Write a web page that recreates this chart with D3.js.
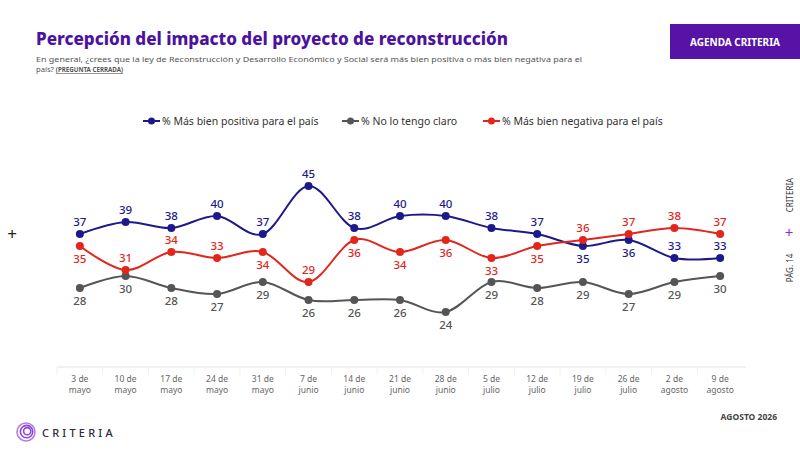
<!DOCTYPE html>
<html lang="es">
<head>
<meta charset="UTF-8">
<title>Percepción del impacto del proyecto de reconstrucción</title>
<script src="https://d3js.org/d3.v7.min.js"></script>
<style>
  body { margin: 0; background: #fff; }
  text { font-family: "Noto Sans", "Open Sans", sans-serif; }
</style>
</head>
<body>
<svg width="800" height="450"></svg>
<script>
  // Data
  const dates = ["3 de mayo", "10 de mayo", "17 de mayo", "24 de mayo", "31 de mayo",
    "7 de junio", "14 de junio", "21 de junio", "28 de junio", "5 de julio",
    "12 de julio", "19 de julio", "26 de julio", "2 de agosto", "9 de agosto"];
  const positiva = [37, 39, 38, 40, 37, 45, 38, 40, 40, 38, 37, 35, 36, 33, 33];
  const noClaro = [28, 30, 28, 27, 29, 26, 26, 26, 24, 29, 28, 29, 27, 29, 30];
  const negativa = [35, 31, 34, 33, 34, 29, 36, 34, 36, 33, 35, 36, 37, 38, 37];
  // label side per point: 1 = above, -1 = below
  const positivaSide = [1, 1, 1, 1, 1, 1, 1, 1, 1, 1, 1, -1, -1, 1, 1];
  const negativaSide = [-1, 1, 1, 1, -1, 1, -1, -1, -1, -1, -1, 1, 1, 1, 1];
  const noClaroSide = dates.map(() => -1);

  const series = [
    {name: "% Más bien positiva para el país", values: positiva, side: positivaSide, color: "#1c1a8a"},
    {name: "% No lo tengo claro", values: noClaro, side: noClaroSide, color: "#555555"},
    {name: "% Más bien negativa para el país", values: negativa, side: negativaSide, color: "#e3261c"}
  ];

  const svg = d3.select("svg");
  const purple = "#4b12a0";

  // Header
  svg.append("text")
    .attr("x", 36).attr("y", 45)
    .attr("fill", purple)
    .attr("font-size", 18).attr("font-weight", 800)
    .attr("textLength", 472).attr("lengthAdjust", "spacingAndGlyphs")
    .text("Percepción del impacto del proyecto de reconstrucción");

  svg.append("text")
    .attr("x", 36).attr("y", 62)
    .attr("fill", "#555").attr("font-size", 7.6)
    .attr("textLength", 546).attr("lengthAdjust", "spacingAndGlyphs")
    .text("En general, ¿crees que la ley de Reconstrucción y Desarrollo Económico y Social será más bien positiva o más bien negativa para el");
  const sub2 = svg.append("text")
    .attr("x", 36).attr("y", 72)
    .attr("fill", "#555").attr("font-size", 7.6);
  sub2.append("tspan").text("país? ");
  sub2.append("tspan")
    .attr("font-size", 6.2).attr("font-weight", 700)
    .attr("text-decoration", "underline")
    .text("(PREGUNTA CERRADA)");

  svg.append("rect")
    .attr("x", 670).attr("y", 24).attr("width", 130).attr("height", 35)
    .attr("fill", "#5713a6");
  svg.append("text")
    .attr("x", 735).attr("y", 46)
    .attr("text-anchor", "middle")
    .attr("fill", "#fff").attr("font-size", 10).attr("font-weight", 700)
    .text("AGENDA CRITERIA");

  // Legend
  const legendX = [143, 342, 483];
  const legend = svg.append("g");
  series.forEach((s, i) => {
    const g = legend.append("g").attr("transform", `translate(${legendX[i]},121)`);
    g.append("line").attr("x1", 0).attr("x2", 17).attr("stroke", s.color).attr("stroke-width", 2);
    g.append("circle").attr("cx", 8.5).attr("r", 3.5).attr("fill", s.color);
    g.append("text")
      .attr("x", 19).attr("y", 4)
      .attr("fill", "#333").attr("font-size", 10.5)
      .text(s.name);
  });

  // Scales
  const x = d3.scaleBand()
    .domain(dates)
    .range([57, 743]);
  const cx = d => x(d) + x.bandwidth() / 2;
  const y = d3.scaleLinear()
    .domain([20, 50])
    .range([336, 156]);

  // X axis
  const axis = svg.append("g").attr("transform", "translate(0,367)");
  axis.append("line")
    .attr("x1", 57).attr("x2", 746)
    .attr("stroke", "#e4e4e4").attr("stroke-width", 1.2);
  axis.selectAll("line.sep")
    .data(dates)
    .join("line")
    .attr("class", "sep")
    .attr("x1", d => x(d)).attr("x2", d => x(d))
    .attr("y1", 0).attr("y2", 8)
    .attr("stroke", "#f0f0f0");
  const tick = axis.selectAll("text.tick")
    .data(dates)
    .join("text")
    .attr("class", "tick")
    .attr("text-anchor", "middle")
    .attr("fill", "#666").attr("font-size", 8.5);
  tick.append("tspan")
    .attr("x", d => cx(d)).attr("y", 15)
    .text(d => d.split(" de ")[0] + " de");
  tick.append("tspan")
    .attr("x", d => cx(d)).attr("y", 25.5)
    .text(d => d.split(" de ")[1]);

  // Lines
  const line = d3.line()
    .x((v, i) => cx(dates[i]))
    .y(v => y(v))
    .curve(d3.curveCatmullRom.alpha(0));

  const plot = svg.append("g");
  series.forEach(s => {
    plot.append("path")
      .datum(s.values)
      .attr("fill", "none")
      .attr("stroke", s.color)
      .attr("stroke-width", 2)
      .attr("d", line);
  });
  series.forEach(s => {
    plot.selectAll(null)
      .data(s.values)
      .join("circle")
      .attr("cx", (v, i) => cx(dates[i]))
      .attr("cy", v => y(v))
      .attr("r", 4)
      .attr("fill", s.color);
    plot.selectAll(null)
      .data(s.values)
      .join("text")
      .attr("x", (v, i) => cx(dates[i]))
      .attr("y", (v, i) => y(v) + (s.side[i] > 0 ? -8 : 17))
      .attr("text-anchor", "middle")
      .attr("fill", s.color)
      .attr("font-size", 11.5).attr("font-weight", 500)
      .text(v => v);
  });

  // Side marks
  svg.append("text")
    .attr("x", 12).attr("y", 240)
    .attr("text-anchor", "middle")
    .attr("fill", "#222").attr("font-size", 17)
    .text("+");
  svg.append("text")
    .attr("transform", "translate(793,195) rotate(-90)")
    .attr("text-anchor", "middle")
    .attr("fill", "#333").attr("font-size", 8)
    .text("CRITERIA");
  svg.append("text")
    .attr("x", 789).attr("y", 238)
    .attr("text-anchor", "middle")
    .attr("fill", "#8a2be2").attr("font-size", 15)
    .text("+");
  svg.append("text")
    .attr("transform", "translate(793,268) rotate(-90)")
    .attr("text-anchor", "middle")
    .attr("fill", "#333").attr("font-size", 8)
    .text("PÁG. 14");

  // Footer
  svg.append("text")
    .attr("x", 777).attr("y", 420)
    .attr("text-anchor", "end")
    .attr("fill", "#444").attr("font-size", 8.5).attr("font-weight", 700)
    .text("AGOSTO 2026");

  const logo = svg.append("g").attr("transform", "translate(26,432)");
  [9, 6.2, 3.6].forEach((r, i) => {
    logo.append("circle")
      .attr("cx", i * 0.6).attr("cy", -i * 0.4)
      .attr("r", r)
      .attr("fill", "none")
      .attr("stroke", i === 0 ? "#b57ee8" : "#8e44d6")
      .attr("stroke-width", 1.6);
  });
  svg.append("text")
    .attr("x", 42).attr("y", 437)
    .attr("fill", "#2a2a3a").attr("font-size", 11).attr("font-weight", 500)
    .attr("letter-spacing", 3.2)
    .text("CRITERIA");
</script>
</body>
</html>
